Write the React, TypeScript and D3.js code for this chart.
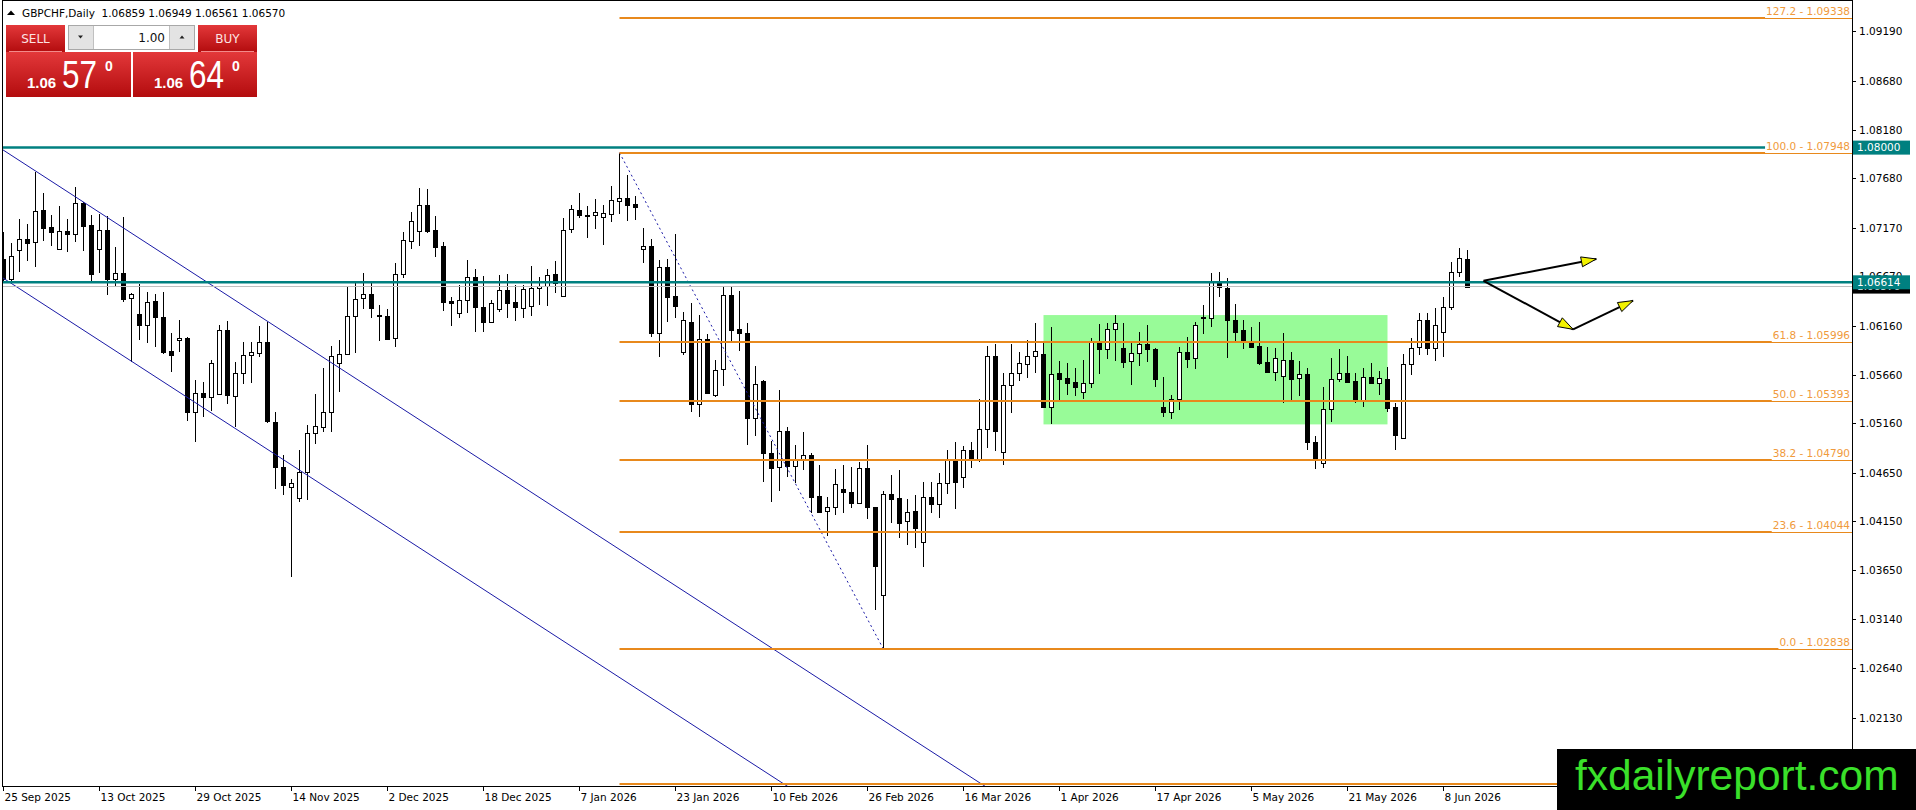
import React from "react";
import * as d3 from "d3";

const WIDTH = 1916;
const HEIGHT = 810;

// chart window frame and price axis
const frame = { left: 2, top: 1, right: 1852, bottom: 786 };
const priceTop = 1.09519;
const priceBottom = 1.01431;
const firstBarX = 3.5;
const barStep = 8;

const symbol = "GBPCHF,Daily";
const bid = 1.0657;
const ask = 1.0664;
const lots = "1.00";

// daily bars, 25 Sep 2025 .. 11 Jun 2026
const opens = [
  1.06854, 1.06644, 1.06946, 1.07056, 1.07025, 1.07355, 1.0718, 1.06953, 1.07142, 1.07108,
  1.07433, 1.072, 1.06953, 1.07149, 1.06644, 1.06706, 1.06449, 1.06284, 1.06171, 1.06418,
  1.06253, 1.05907, 1.06017, 1.06037, 1.05276, 1.05471, 1.0543, 1.05461, 1.0612, 1.05444,
  1.05677, 1.05862, 1.05883, 1.05996, 1.0518, 1.0471, 1.04511, 1.04391, 1.04659, 1.0506,
  1.05122, 1.05276, 1.0578, 1.05873, 1.06267, 1.06449, 1.0649, 1.06277, 1.06267, 1.06037,
  1.06696, 1.07039, 1.07142, 1.07409, 1.07152, 1.06988, 1.06421, 1.06295, 1.06428, 1.06665,
  1.06356, 1.06202, 1.06336, 1.06531, 1.06408, 1.06346, 1.0637, 1.06552, 1.06576, 1.06696,
  1.06473, 1.07159, 1.07355, 1.07303, 1.07303, 1.07282, 1.07317, 1.07454, 1.07478, 1.0742,
  1.06953, 1.06987, 1.06089, 1.06768, 1.06473, 1.05893, 1.06202, 1.05358, 1.06034, 1.05454,
  1.05725, 1.06483, 1.0613, 1.06089, 1.05214, 1.05595, 1.04861, 1.0471, 1.05087, 1.04727,
  1.04792, 1.04833, 1.04412, 1.04257, 1.04298, 1.04487, 1.04453, 1.0434, 1.047, 1.04298,
  1.03396, 1.04432, 1.04391, 1.04158, 1.04261, 1.03938, 1.04408, 1.04329, 1.04545, 1.04782,
  1.04614, 1.04885, 1.04785, 1.05101, 1.05852, 1.04864, 1.05554, 1.05677, 1.0577, 1.05852,
  1.05873, 1.05327, 1.05677, 1.05626, 1.05588, 1.05489, 1.05581, 1.05996, 1.05931, 1.0613,
  1.05934, 1.05801, 1.05883, 1.05979, 1.05924, 1.05327, 1.05276, 1.0541, 1.05893, 1.05832,
  1.06257, 1.06243, 1.06627, 1.06552, 1.06226, 1.06123, 1.06006, 1.05955, 1.0579, 1.05687,
  1.0565, 1.05811, 1.05626, 1.05667, 1.04967, 1.04751, 1.05307, 1.05615, 1.05677, 1.05598,
  1.05396, 1.0564, 1.05574, 1.05619, 1.05331, 1.05015, 1.0577, 1.05945, 1.06226, 1.05934,
  1.06099, 1.06356, 1.06716, 1.06859,
];
const highs = [
  1.07135, 1.07015, 1.07262, 1.07214, 1.07752, 1.07529, 1.07303, 1.07399, 1.07262, 1.07591,
  1.07444, 1.07306, 1.07317, 1.07296, 1.06974, 1.07282, 1.065, 1.06596, 1.06518, 1.06494,
  1.06518, 1.06089, 1.06226, 1.06048, 1.05609, 1.05591, 1.05814, 1.06175, 1.06219, 1.05797,
  1.05996, 1.05996, 1.06164, 1.06209, 1.05276, 1.04837, 1.04587, 1.04888, 1.05146, 1.05465,
  1.05729, 1.05959, 1.0602, 1.06576, 1.0662, 1.06706, 1.0662, 1.0638, 1.06336, 1.06809,
  1.07135, 1.07341, 1.07581, 1.07571, 1.07296, 1.07025, 1.06466, 1.06586, 1.06843, 1.06751,
  1.06679, 1.06432, 1.06686, 1.06699, 1.06586, 1.06586, 1.06782, 1.06672, 1.06751, 1.06833,
  1.07272, 1.07409, 1.07536, 1.07399, 1.07468, 1.07409, 1.07605, 1.07948, 1.07718, 1.07502,
  1.07169, 1.07056, 1.06843, 1.06857, 1.07111, 1.06312, 1.06398, 1.06277, 1.06079, 1.05814,
  1.06576, 1.06569, 1.06524, 1.06199, 1.05753, 1.05609, 1.04984, 1.05506, 1.05128, 1.0494,
  1.0507, 1.04861, 1.04734, 1.04408, 1.04689, 1.04734, 1.04717, 1.04768, 1.0494, 1.04305,
  1.04466, 1.04631, 1.04683, 1.04381, 1.04425, 1.04556, 1.04556, 1.04655, 1.04888, 1.04971,
  1.0493, 1.04975, 1.05413, 1.05962, 1.05976, 1.05677, 1.05979, 1.059, 1.06017, 1.06192,
  1.06003, 1.06151, 1.05804, 1.05787, 1.05729, 1.05814, 1.06037, 1.06185, 1.06192, 1.06277,
  1.06192, 1.05996, 1.06099, 1.06175, 1.05934, 1.05643, 1.05454, 1.05952, 1.06055, 1.06209,
  1.0638, 1.06713, 1.06716, 1.06655, 1.06391, 1.06226, 1.06157, 1.06202, 1.05952, 1.05934,
  1.06089, 1.059, 1.05807, 1.05729, 1.05036, 1.05533, 1.05832, 1.05928, 1.05856, 1.05677,
  1.05736, 1.0578, 1.05705, 1.05746, 1.05368, 1.05873, 1.06037, 1.06295, 1.06295, 1.06346,
  1.06459, 1.06826, 1.06963, 1.06949,
];
const lows = [
  1.06631, 1.0662, 1.06723, 1.06837, 1.06775, 1.07042, 1.06991, 1.06946, 1.06929, 1.07032,
  1.06939, 1.0661, 1.06713, 1.0648, 1.06562, 1.06415, 1.05797, 1.0602, 1.05986, 1.05952,
  1.05873, 1.05694, 1.059, 1.0519, 1.04974, 1.05231, 1.05293, 1.05455, 1.05362, 1.05128,
  1.05567, 1.05574, 1.05842, 1.05163, 1.04484, 1.04425, 1.03585, 1.04357, 1.04374, 1.0495,
  1.05077, 1.05077, 1.05489, 1.05865, 1.0589, 1.06336, 1.0625, 1.06013, 1.0602, 1.05952,
  1.06662, 1.06953, 1.06988, 1.07125, 1.06871, 1.06322, 1.06168, 1.06243, 1.06295, 1.06099,
  1.06099, 1.06192, 1.06312, 1.06243, 1.06219, 1.06243, 1.06271, 1.0638, 1.06374, 1.06507,
  1.06465, 1.07118, 1.07272, 1.07066, 1.07166, 1.06998, 1.07238, 1.07317, 1.07248, 1.07255,
  1.06816, 1.06048, 1.05849, 1.06209, 1.06243, 1.05866, 1.05283, 1.05224, 1.05465, 1.0543,
  1.0555, 1.05993, 1.0591, 1.0494, 1.05032, 1.04562, 1.04357, 1.04466, 1.04607, 1.04545,
  1.04682, 1.04243, 1.04237, 1.04007, 1.04219, 1.04243, 1.04288, 1.04329, 1.04175, 1.03242,
  1.02838, 1.04134, 1.03979, 1.03911, 1.03883, 1.03681, 1.04237, 1.04185, 1.04432, 1.04281,
  1.04494, 1.047, 1.04761, 1.04905, 1.04881, 1.04734, 1.05273, 1.05602, 1.05633, 1.05684,
  1.05317, 1.05152, 1.05386, 1.05454, 1.05444, 1.0541, 1.05523, 1.05667, 1.05821, 1.05804,
  1.05729, 1.05557, 1.05753, 1.05797, 1.0554, 1.05224, 1.05204, 1.053, 1.05729, 1.05718,
  1.06079, 1.06151, 1.06466, 1.05832, 1.06003, 1.05928, 1.05934, 1.05763, 1.05684, 1.05602,
  1.05368, 1.05386, 1.05447, 1.04888, 1.04689, 1.047, 1.05173, 1.05591, 1.05581, 1.05368,
  1.05334, 1.05564, 1.05454, 1.05283, 1.04888, 1.04998, 1.0566, 1.05866, 1.05866, 1.05807,
  1.05849, 1.06329, 1.06665, 1.06561,
];
const closes = [
  1.06644, 1.06881, 1.07063, 1.07015, 1.07351, 1.07176, 1.07128, 1.07142, 1.07108, 1.07427,
  1.07197, 1.06696, 1.07149, 1.06644, 1.06706, 1.06439, 1.06497, 1.06171, 1.06415, 1.06253,
  1.05893, 1.05862, 1.06037, 1.05276, 1.05471, 1.0543, 1.0578, 1.0612, 1.05451, 1.05677,
  1.05862, 1.05893, 1.05996, 1.0519, 1.0471, 1.04525, 1.04545, 1.04659, 1.0506, 1.05135,
  1.05276, 1.05859, 1.05873, 1.06267, 1.06439, 1.0649, 1.06346, 1.06264, 1.06034, 1.06696,
  1.07049, 1.07245, 1.07409, 1.07145, 1.06981, 1.06415, 1.06398, 1.06428, 1.06665, 1.06356,
  1.06202, 1.06398, 1.06531, 1.06404, 1.06363, 1.06542, 1.06552, 1.06576, 1.06692, 1.06603,
  1.07149, 1.07365, 1.07303, 1.07296, 1.07334, 1.07324, 1.07461, 1.07478, 1.07413, 1.07392,
  1.06987, 1.06089, 1.06768, 1.06466, 1.06373, 1.06223, 1.05358, 1.06034, 1.05471, 1.05712,
  1.06483, 1.06123, 1.06089, 1.05214, 1.05564, 1.04861, 1.04707, 1.05087, 1.04727, 1.04792,
  1.04833, 1.04408, 1.04254, 1.04298, 1.04535, 1.0446, 1.0434, 1.047, 1.04298, 1.03698,
  1.04432, 1.04381, 1.04141, 1.04247, 1.04089, 1.04408, 1.04329, 1.04545, 1.04782, 1.04562,
  1.04885, 1.04785, 1.05101, 1.05852, 1.05087, 1.05554, 1.05677, 1.0578, 1.05852, 1.05904,
  1.05331, 1.05667, 1.05622, 1.05581, 1.0554, 1.05581, 1.05996, 1.05931, 1.0613, 1.06199,
  1.05797, 1.05883, 1.05976, 1.05924, 1.05622, 1.05276, 1.0541, 1.059, 1.05828, 1.06171,
  1.0625, 1.06627, 1.06562, 1.06223, 1.06099, 1.06003, 1.05952, 1.05787, 1.05694, 1.05832,
  1.05811, 1.05615, 1.05667, 1.04967, 1.04809, 1.05307, 1.05615, 1.05677, 1.05591, 1.05396,
  1.0564, 1.05581, 1.05626, 1.05324, 1.05046, 1.0577, 1.05934, 1.06226, 1.05934, 1.06171,
  1.06356, 1.06716, 1.06861, 1.0657,
];

const dateLabels = [
  "25 Sep 2025", "13 Oct 2025", "29 Oct 2025", "14 Nov 2025", "2 Dec 2025", "18 Dec 2025",
  "7 Jan 2026", "23 Jan 2026", "10 Feb 2026", "26 Feb 2026", "16 Mar 2026", "1 Apr 2026",
  "17 Apr 2026", "5 May 2026", "21 May 2026", "8 Jun 2026",
];
const dateEvery = 12;

const priceTicks = [
  1.0919, 1.0868, 1.0818, 1.0768, 1.0717, 1.0667, 1.0616, 1.0566, 1.0516, 1.0465, 1.0415,
  1.0365, 1.0314, 1.0264, 1.0213,
];

// horizontal lines
const levelLines = [1.08, 1.06614];

// fibonacci retracement anchors
const fibHigh = { bar: 77, price: 1.07948 };
const fibLow = { bar: 110, price: 1.02838 };
const fibLevels = [127.2, 100, 61.8, 50, 38.2, 23.6, 0, -27.2];

// falling channel (bar, price)
const channelUpper: [number, number][] = [[0, 1.07973], [120, 1.01572]];
const channelLower: [number, number][] = [[0, 1.06655], [100, 1.01321]];

// range box
const rangeBox = { fromBar: 130, toBar: 173, top: 1.06277, bottom: 1.05152 };

// projection arrows (bar, price)
const arrowUp: [number, number][] = [[185, 1.0663], [199.1, 1.06854]];
const arrowDown: [number, number][] = [[185, 1.0663], [196.2, 1.0613], [203.7, 1.06426]];

const TEAL = "#008080";
const ORANGE = "#e8891c";
const ORANGE_TEXT = "#f09a3c";
const BLUE = "#1a1aa6";
const AXIS_FONT = "DejaVu Sans, sans-serif";

let measureCtx: CanvasRenderingContext2D | null = null;
const measure = (text: string, font: string) => {
  if (!measureCtx) measureCtx = document.createElement("canvas").getContext("2d");
  if (!measureCtx) return text.length * 6.5;
  measureCtx.font = font;
  return measureCtx.measureText(text).width;
};

const arrowHead = (x1: number, y1: number, x2: number, y2: number) => {
  const a = Math.atan2(y2 - y1, x2 - x1);
  const len = 15;
  const half = 5;
  const bx = x2 - len * Math.cos(a);
  const by = y2 - len * Math.sin(a);
  const px = -Math.sin(a) * half;
  const py = Math.cos(a) * half;
  return `${x2},${y2} ${bx + px},${by + py} ${bx - px},${by - py}`;
};

const TradePanel: React.FC = () => {
  const sell = bid.toFixed(5);
  const buy = ask.toFixed(5);
  const priceBox = (x: number, w: number, s: string) => (
    <g>
      <rect x={x} y={52} width={w} height={45} fill="url(#redGrad)" />
      <text x={x + 21} y={88} fontFamily="Liberation Sans, Arial" fontWeight="bold" fontSize={15} fill="#fff">
        {s.slice(0, 4)}
      </text>
      <text x={x + 56} y={88} fontFamily="Liberation Sans, Arial" fontSize={39} fill="#fff"
        textLength={35} lengthAdjust="spacingAndGlyphs">
        {s.slice(4, 6)}
      </text>
      <text x={x + 99} y={71} fontFamily="Liberation Sans, Arial" fontWeight="bold" fontSize={14} fill="#fff">
        {s.slice(6)}
      </text>
    </g>
  );
  return (
    <g>
      <rect x={6} y={25} width={59} height={27} fill="url(#redGrad)" />
      <text x={35.5} y={43} textAnchor="middle" fontFamily={AXIS_FONT} fontSize={12} fill="#fde3e3">SELL</text>
      <line x1={9} x2={62} y1={51.5} y2={51.5} stroke="#f28a8a" />
      <rect x={198} y={25} width={59} height={27} fill="url(#redGrad)" />
      <text x={227.5} y={43} textAnchor="middle" fontFamily={AXIS_FONT} fontSize={12} fill="#fde3e3">BUY</text>
      <line x1={201} x2={254} y1={51.5} y2={51.5} stroke="#f28a8a" />
      <rect x={68.5} y={25.5} width={126} height={24} fill="#fff" stroke="#a8a8a8" />
      <rect x={69} y={26} width={24} height={23} fill="#e3e3e3" />
      <rect x={170} y={26} width={24} height={23} fill="#e3e3e3" />
      <line x1={93.5} x2={93.5} y1={26} y2={49} stroke="#c0c0c0" />
      <line x1={169.5} x2={169.5} y1={26} y2={49} stroke="#c0c0c0" />
      <polygon points="78,35.5 83,35.5 80.5,38.5" fill="#222" />
      <polygon points="179.5,38.5 184.5,38.5 182,35.5" fill="#222" />
      <text x={165} y={42} textAnchor="end" fontFamily={AXIS_FONT} fontSize={12} fill="#111">{lots}</text>
      {priceBox(6, 125, sell)}
      {priceBox(133, 124, buy)}
    </g>
  );
};

const App: React.FC = () => {
  const n = closes.length;
  const x = d3.scaleLinear().domain([0, 1]).range([firstBarX, firstBarX + barStep]);
  const y = d3.scaleLinear().domain([priceBottom, priceTop]).range([frame.bottom, 0]);
  const snap = (v: number) => Math.round(v - 0.5) + 0.5;

  const fibRange = fibHigh.price - fibLow.price;
  const fibX = x(fibHigh.bar);
  const labelFont = `10.5px ${AXIS_FONT}`;

  const extend = (pts: [number, number][], from: number, to: number) => {
    const [[b0, p0], [b1, p1]] = pts;
    const slope = (p1 - p0) / (b1 - b0);
    return { x1: x(from), y1: y(p0 + slope * (from - b0)), x2: x(to), y2: y(p0 + slope * (to - b0)) };
  };

  const last = n - 1;
  const header = `${symbol}  ${opens[last].toFixed(5)} ${highs[last].toFixed(5)} ${lows[last].toFixed(5)} ${closes[last].toFixed(5)}`;

  const arrowSegments: [number, number, number, number][] = [];
  [arrowUp, arrowDown].forEach((pts) => {
    for (let i = 1; i < pts.length; i++) {
      arrowSegments.push([x(pts[i - 1][0]), y(pts[i - 1][1]), x(pts[i][0]), y(pts[i][1])]);
    }
  });

  const fibRows = fibLevels.map((lv) => {
    const p = fibLow.price + (fibRange * lv) / 100;
    const label = `${lv.toFixed(1)} - ${p.toFixed(5)}`;
    const yy = Math.round(y(p));
    const tw = measure(label, labelFont);
    return { lv, label, yy, textStart: frame.right - 2 - tw };
  });

  return (
    <svg width={WIDTH} height={HEIGHT} style={{ position: "absolute", left: 0, top: 0, display: "block", background: "#fff" }}>
      <defs>
        <clipPath id="plotClip">
          <rect x={frame.left + 1} y={frame.top} width={frame.right - frame.left - 1} height={frame.bottom - frame.top} />
        </clipPath>
        <linearGradient id="redGrad" x1="0" y1="0" x2="0" y2="1">
          <stop offset="0%" stopColor="#e3383a" />
          <stop offset="100%" stopColor="#b30c0e" />
        </linearGradient>
      </defs>
      <rect x={0} y={0} width={WIDTH} height={HEIGHT} fill="#fff" />

      <g clipPath="url(#plotClip)">
        {/* range box in background */}
        <rect
          x={x(rangeBox.fromBar)}
          y={y(rangeBox.top)}
          width={x(rangeBox.toBar) - x(rangeBox.fromBar)}
          height={y(rangeBox.bottom) - y(rangeBox.top)}
          fill="#98fb98"
        />

        {/* candles */}
        {closes.map((c, i) => {
          const o = opens[i];
          const cx = snap(x(i));
          const top = Math.round(y(Math.max(o, c)));
          const bot = Math.round(y(Math.min(o, c)));
          const bull = c >= o;
          return (
            <g key={i}>
              <line x1={cx} x2={cx} y1={Math.round(y(highs[i]))} y2={Math.round(y(lows[i]))} stroke="#000" />
              <rect
                x={cx - 2}
                y={top + 0.5}
                width={4}
                height={Math.max(bot - top, 1)}
                fill={bull ? "#fff" : "#000"}
                stroke="#000"
              />
            </g>
          );
        })}

        {/* channel */}
        {[channelUpper, channelLower].map((pts, i) => (
          <line key={i} {...extend(pts, -2, 140)} stroke={BLUE} strokeWidth={1} />
        ))}

        {/* fibonacci trend line */}
        <line
          x1={x(fibHigh.bar)} y1={y(fibHigh.price)} x2={x(fibLow.bar)} y2={y(fibLow.price)}
          stroke={BLUE} strokeWidth={1} strokeDasharray="2,3"
        />

        {/* fibonacci levels */}
        {fibRows.map((r) => (
          <line key={r.lv} x1={fibX} x2={frame.right} y1={r.yy} y2={r.yy} stroke={ORANGE} strokeWidth={2} />
        ))}

        {/* bid line */}
        <line x1={frame.left} x2={frame.right} y1={snap(y(bid))} y2={snap(y(bid))} stroke="#c0c0c0" />

        {/* horizontal levels */}
        {levelLines.map((p) => (
          <line key={p} x1={frame.left} x2={frame.right} y1={y(p)} y2={y(p)} stroke={TEAL} strokeWidth={2.5} />
        ))}

        {/* fibonacci labels on an opaque background (leaves a thin line under the text) */}
        {fibRows
          .filter((r) => r.lv >= 0)
          .map((r) => (
            <g key={r.lv}>
              <rect x={r.textStart - 1} y={r.yy - 13} width={frame.right - r.textStart + 1} height={13} fill="#fff" />
              <text x={frame.right - 2} y={r.yy - 3} textAnchor="end" fontFamily={AXIS_FONT} fontSize={10.5} fill={ORANGE_TEXT}>
                {r.label}
              </text>
            </g>
          ))}

        {/* projection arrows */}
        {arrowSegments.map(([x1, y1, x2, y2], i) => (
          <g key={i}>
            <line x1={x1} y1={y1} x2={x2} y2={y2} stroke="#000" strokeWidth={2} />
            <polygon points={arrowHead(x1, y1, x2, y2)} fill="#f2f200" stroke="#000" strokeWidth={1} />
          </g>
        ))}
      </g>

      {/* frame */}
      <rect x={frame.left + 0.5} y={frame.top - 0.5} width={frame.right - frame.left} height={frame.bottom - frame.top + 1}
        fill="none" stroke="#000" />

      {/* price axis */}
      {priceTicks.map((t) => {
        const yy = snap(y(t));
        return (
          <g key={t}>
            <line x1={frame.right} x2={frame.right + 4} y1={yy} y2={yy} stroke="#000" />
            <text x={frame.right + 7} y={yy} dy="0.36em" fontFamily={AXIS_FONT} fontSize={10.5} fill="#000">
              {t.toFixed(5)}
            </text>
          </g>
        );
      })}
      <rect x={frame.right + 1} y={y(bid) - 7} width={57} height={14} fill="#000" />
      <text x={frame.right + 5} y={y(bid)} dy="0.36em" fontFamily={AXIS_FONT} fontSize={10.5} fill="#fff">
        {bid.toFixed(5)}
      </text>
      {levelLines.map((p) => (
        <g key={p}>
          <rect x={frame.right + 1} y={y(p) - 7} width={57} height={14} fill={TEAL} />
          <text x={frame.right + 5} y={y(p)} dy="0.36em" fontFamily={AXIS_FONT} fontSize={10.5} fill="#fff">
            {p.toFixed(5)}
          </text>
        </g>
      ))}

      {/* time axis */}
      {dateLabels.map((d, i) => {
        const xx = snap(x(i * dateEvery));
        return (
          <g key={d}>
            <line x1={xx} x2={xx} y1={frame.bottom} y2={frame.bottom + 5} stroke="#000" />
            <text x={xx + 1} y={801} fontFamily={AXIS_FONT} fontSize={10.5} fill="#000">
              {d}
            </text>
          </g>
        );
      })}

      {/* header */}
      <polygon points="7,15 11,10.5 15,15" fill="#000" />
      <text x={22} y={17} fontFamily={AXIS_FONT} fontSize={10.5} fill="#000" style={{ whiteSpace: "pre" }}>
        {header}
      </text>

      <TradePanel />

      {/* watermark */}
      <rect x={1557} y={749} width={WIDTH - 1557} height={HEIGHT - 749} fill="#000" />
      <text x={1575} y={790} fontFamily="Liberation Sans, Arial" fontSize={42.5} fill="#3ae02a">
        fxdailyreport.com
      </text>
    </svg>
  );
};

export default App;
